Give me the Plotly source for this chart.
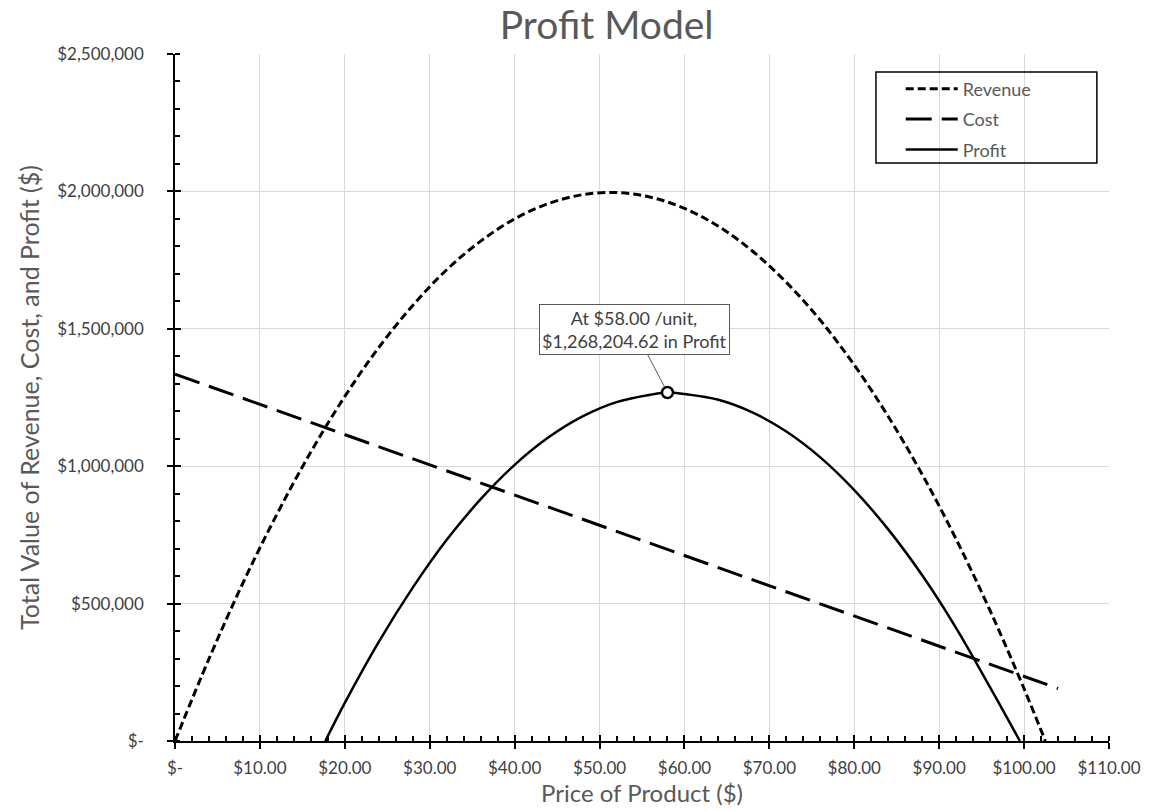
import plotly.graph_objects as go

# Revenue curve, sampled along the price axis
rev_price = [0, 4, 8, 12, 16, 20, 24, 28, 32, 36, 40, 44, 48, 52, 56, 60,
             64, 68, 72, 76, 80, 84, 88, 92, 96, 100, 102.5]
revenue = [0, 299000, 575000, 825000, 1052000, 1254000, 1432000, 1585000,
           1715000, 1819000, 1900000, 1956000, 1988000, 1996000, 1979000,
           1938000, 1873000, 1783000, 1669000, 1531000, 1368000, 1181000,
           970000, 734000, 474000, 190000, 0]

# Cost falls linearly with price
cost_price = [0, 104]
cost = [1335000, 191000]

# Profit between the two break-even prices
profit_price = [17.7, 20, 24, 28, 32, 36, 40, 44, 48, 52, 56, 58, 60, 64, 68,
                72, 76, 80, 84, 88, 92, 96, 99.5]
profit = [0, 139000, 361000, 558000, 732000, 880000, 1005000, 1105000,
          1181000, 1233000, 1260000, 1268204.62, 1263000, 1242000, 1196000,
          1126000, 1032000, 913000, 770000, 603000, 411000, 195000, 0]

# Optimum price point
best_price = 58.00
best_profit = 1268204.62

x_tickvals = [0, 10, 20, 30, 40, 50, 60, 70, 80, 90, 100, 110]
x_ticktext = ["$-", "$10.00", "$20.00", "$30.00", "$40.00", "$50.00",
              "$60.00", "$70.00", "$80.00", "$90.00", "$100.00", "$110.00"]
y_tickvals = [0, 500000, 1000000, 1500000, 2000000, 2500000]
y_ticktext = ["$-", "$500,000", "$1,000,000", "$1,500,000", "$2,000,000",
              "$2,500,000"]

FONT = "Lato"
TICK_COLOR = "#404040"
TITLE_COLOR = "#595959"

fig = go.Figure()

fig.add_trace(go.Scatter(
    x=rev_price, y=revenue, name="Revenue", mode="lines",
    line=dict(color="black", width=3, dash="8px,4px", shape="spline"),
    legendgroup="a"))
fig.add_trace(go.Scatter(
    x=cost_price, y=cost, name="Cost", mode="lines",
    line=dict(color="black", width=3, dash="26px,10px"),
    legendgroup="b"))
fig.add_trace(go.Scatter(
    x=profit_price, y=profit, name="Profit", mode="lines",
    line=dict(color="black", width=2.5, shape="spline"),
    legendgroup="c"))
fig.add_trace(go.Scatter(
    x=[best_price], y=[best_profit], mode="markers", showlegend=False,
    marker=dict(symbol="circle", size=11, color="white",
                line=dict(color="black", width=2.5))))
# carrier for the overlay axes that draw the inner half of the major ticks
fig.add_trace(go.Scatter(x=[None], y=[None], xaxis="x2", yaxis="y2",
                         showlegend=False, hoverinfo="skip"))

fig.add_annotation(
    x=best_price, y=best_profit, xref="x", yref="y",
    text=f"At ${best_price:.2f} /unit,<br>${best_profit:,.2f} in Profit",
    showarrow=True, arrowhead=0, arrowwidth=1, arrowcolor="#595959",
    ax=-33, ay=-63, standoff=6,
    bgcolor="white", bordercolor="#595959", borderwidth=1, borderpad=2,
    font=dict(family=FONT, size=18, color=TICK_COLOR))

axis_common = dict(showline=True, linecolor="black", linewidth=1.5,
                   zeroline=False, automargin=False)

fig.update_layout(
    width=1149, height=811,
    margin=dict(l=175, r=40, t=54, b=70),
    paper_bgcolor="white", plot_bgcolor="white",
    font=dict(family=FONT, color=TICK_COLOR),
    title=dict(text="Profit Model", x=0.528, xanchor="center",
               y=0.969, yanchor="middle",
               font=dict(family=FONT, size=39, color=TITLE_COLOR)),
    showlegend=True,
    legend=dict(x=0.777, y=0.976, xanchor="left", yanchor="top",
                bgcolor="rgba(0,0,0,0)", borderwidth=0,
                traceorder="grouped", tracegroupgap=4, itemwidth=52,
                font=dict(family=FONT, size=18, color=TITLE_COLOR)),
    xaxis=dict(range=[0, 110], tickvals=x_tickvals, ticktext=x_ticktext,
               ticks="outside", ticklen=6, tickcolor="black", tickwidth=1.5,
               ticklabelstandoff=5,
               minor=dict(dtick=2, ticks="inside", ticklen=5,
                          tickcolor="black", tickwidth=1.5, showgrid=False),
               showgrid=True, gridcolor="#d9d9d9", gridwidth=1,
               tickfont=dict(size=17, color=TICK_COLOR),
               title=dict(text="Price of Product ($)", standoff=3,
                          font=dict(size=24, color=TITLE_COLOR)),
               **axis_common),
    yaxis=dict(range=[0, 2500000], tickvals=y_tickvals, ticktext=y_ticktext,
               ticks="outside", ticklen=6, tickcolor="black", tickwidth=1.5,
               ticklabelstandoff=20,
               minor=dict(dtick=100000, ticks="inside", ticklen=5,
                          tickcolor="black", tickwidth=1.5, showgrid=False),
               showgrid=True, gridcolor="#d9d9d9", gridwidth=1,
               tickfont=dict(size=17, color=TICK_COLOR),
               title=dict(text="Total Value of Revenue, Cost, and Profit ($)",
                          standoff=10,
                          font=dict(size=25, color=TITLE_COLOR)),
               **axis_common),
    xaxis2=dict(range=[0, 110], overlaying="x", anchor="y", side="bottom",
                tickvals=x_tickvals, showticklabels=False, ticks="inside",
                ticklen=6, tickcolor="black", tickwidth=1.5, showgrid=False,
                showline=False, zeroline=False),
    yaxis2=dict(range=[0, 2500000], overlaying="y", anchor="x", side="left",
                tickvals=y_tickvals, showticklabels=False, ticks="inside",
                ticklen=6, tickcolor="black", tickwidth=1.5, showgrid=False,
                showline=False, zeroline=False),
)

# legend frame
fig.add_shape(type="rect", xref="paper", yref="paper",
              x0=0.7505, x1=0.987, y0=0.8413, y1=0.9738,
              line=dict(color="black", width=1.5), fillcolor="rgba(0,0,0,0)",
              layer="above")

fig.write_html("out.html")
